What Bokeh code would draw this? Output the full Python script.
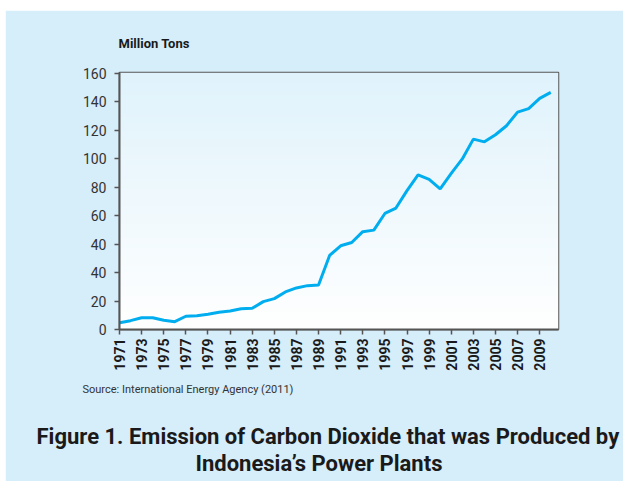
from bokeh.plotting import figure
from bokeh.models import FixedTicker, Range1d, Title
from bokeh.embed import file_html
from bokeh.resources import INLINE
import numpy as np

years = list(range(1971, 2011))
emissions = [4.8, 6.2, 8.3, 8.3, 6.5, 5.5, 9.3, 9.7, 10.7, 12.1,
             13.0, 14.6, 14.9, 19.6, 21.7, 26.4, 29.2, 30.8, 31.3, 52.0,
             58.8, 61.1, 68.7, 69.8, 81.5, 85.3, 97.5, 108.6, 105.5, 98.7,
             109.7, 119.8, 133.7, 131.8, 136.8, 143.1, 152.7, 155.1, 162.3, 166.5]
tick_years = list(range(1971, 2010, 2))
y_ticks = [0, 20, 40, 60, 80, 100, 120, 140, 160, 180]
y_tick_labels = ["0", "20", "40", "40", "60", "80", "100", "120", "140", "160"]

PANEL = "#d6edfa"
LINE = "#00aeef"
AX = "#555555"
FONT = "Roboto"

p = figure(width=618, height=471, output_backend="svg", toolbar_location=None,
           x_range=Range1d(1971, 2010.7), y_range=Range1d(0, 180.5),
           min_border_left=114, min_border_right=65, min_border_top=62, min_border_bottom=152)
p.margin = (10, 0, 0, 5)
p.border_fill_color = PANEL
p.background_fill_color = "white"
p.outline_line_color = AX
p.outline_line_width = 1.5
p.grid.visible = False

# gradient background of the plot area
n = 128
t = np.linspace(0, 1, n)[:, None]
top = np.array([224, 243, 252])
bot = np.array([255, 255, 255])
rgb = (bot + (top - bot) * t).astype(np.uint32)
img = np.empty((n, 1), dtype=np.uint32)
view = img.view(dtype=np.uint8).reshape((n, 1, 4))
view[:, :, 0] = rgb[:, 0:1]
view[:, :, 1] = rgb[:, 1:2]
view[:, :, 2] = rgb[:, 2:3]
view[:, :, 3] = 255
p.image_rgba(image=[img], x=p.x_range.start, y=p.y_range.start,
             dw=p.x_range.end - p.x_range.start, dh=p.y_range.end - p.y_range.start)

p.line(years, emissions, line_color=LINE, line_width=3)

xa = p.xaxis[0]
xa.ticker = FixedTicker(ticks=tick_years)
xa.major_label_orientation = np.pi / 2
xa.major_label_text_font = FONT
xa.major_label_text_font_style = "bold"
xa.major_label_text_font_size = "14px"
xa.major_label_text_color = "#1a1a1a"
xa.major_label_standoff = 4
xa.axis_line_color = AX
xa.axis_line_width = 2
xa.major_tick_line_color = AX
xa.major_tick_line_width = 1.5
xa.major_tick_out = 5
xa.major_tick_in = 0
xa.minor_tick_line_color = None

ya = p.yaxis[0]
ya.ticker = FixedTicker(ticks=y_ticks)
ya.major_label_overrides = {v: s for v, s in zip(y_ticks, y_tick_labels)}
ya.major_label_text_font = FONT
ya.major_label_text_font_size = "14px"
ya.major_label_text_color = "#333333"
ya.major_label_standoff = 8
ya.axis_line_color = AX
ya.axis_line_width = 2
ya.major_tick_line_color = AX
ya.major_tick_line_width = 1.5
ya.major_tick_out = 5
ya.major_tick_in = 0
ya.minor_tick_line_color = None

p.add_layout(Title(text="Million Tons", align="left", offset=-1, standoff=44,
                   text_font=FONT, text_font_style="bold", text_font_size="13px",
                   text_color="#1a1a1a"), "above")
p.add_layout(Title(text="Source:  International Energy Agency (2011)", align="left",
                   offset=-37, standoff=14,
                   text_font=FONT, text_font_style="normal", text_font_size="11px",
                   text_color="#333333"), "below")
# invisible spacer between the source note and the caption
p.add_layout(Title(text="\u00a0", align="left", standoff=16,
                   text_font=FONT, text_font_size="1px"), "below")
p.add_layout(Title(text="Figure 1. Emission of Carbon Dioxide that was Produced by",
                   align="left", offset=-83, standoff=0, vertical_align="bottom",
                   text_font=FONT, text_font_style="bold", text_font_size="22px",
                   text_color="#1a1a1a"), "below")
p.add_layout(Title(text="Indonesia\u2019s Power Plants",
                   align="left", offset=76, standoff=4, vertical_align="top",
                   text_font=FONT, text_font_style="bold", text_font_size="22px",
                   text_color="#1a1a1a"), "below")

open("out.html", "w").write(file_html(p, INLINE))
